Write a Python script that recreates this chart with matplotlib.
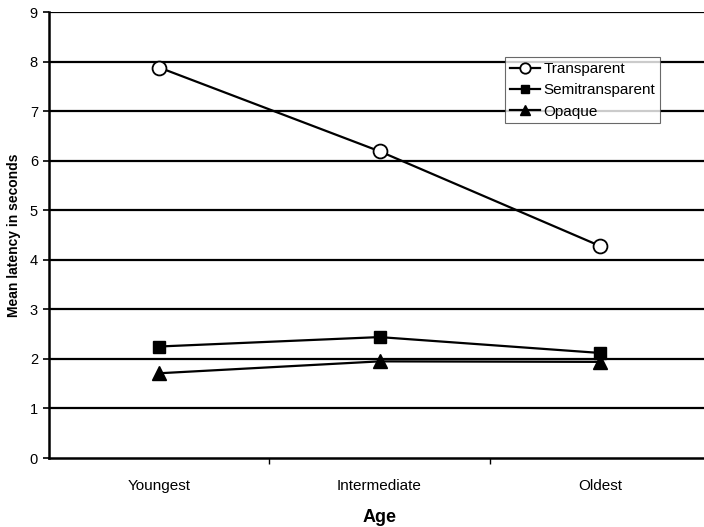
import matplotlib
matplotlib.use("Agg")
import matplotlib.pyplot as plt

categories = ["Youngest", "Intermediate", "Oldest"]
transparent = [7.88, 6.19, 4.28]
semitransparent = [2.25, 2.44, 2.12]
opaque = [1.71, 1.95, 1.94]
yticks = [0, 1, 2, 3, 4, 5, 6, 7, 8, 9]

plt.rcParams['font.family'] = ['Liberation Sans', 'DejaVu Sans']

fig = plt.figure(figsize=(7.04, 5.27), dpi=100)
ax = fig.add_axes([49/704, 1-458/527, 661/704, 446/527])

x = list(range(len(categories)))
ax.set_xlim(-0.5, len(categories)-0.5)
ax.set_ylim(0, 9)

for yv in yticks[1:]:
    ax.axhline(yv, color='black', lw=1.6, zorder=1)

ax.plot(x, transparent, color='black', lw=1.6, marker='o', markersize=10,
        markerfacecolor='white', markeredgecolor='black', markeredgewidth=1.3,
        label='Transparent', zorder=3)
ax.plot(x, semitransparent, color='black', lw=1.6, marker='s', markersize=8.5,
        markerfacecolor='black', label='Semitransparent', zorder=3)
ax.plot(x, opaque, color='black', lw=1.6, marker='^', markersize=9.5,
        markerfacecolor='black', label='Opaque', zorder=3)

ax.set_yticks(yticks)
ax.set_yticklabels([str(v) for v in yticks], fontsize=10.5)
ax.set_xticks(x)
ax.set_xticklabels(categories, fontsize=11)
ax.set_xticks([0.5, 1.5], minor=True)
ax.tick_params(axis='x', which='major', length=0, pad=15)
ax.tick_params(axis='x', which='minor', length=4, width=1)
ax.tick_params(axis='y', which='major', length=4, width=1.2, pad=4)

for s in ['top', 'right']:
    ax.spines[s].set_visible(False)
ax.spines['left'].set_linewidth(1.8)
ax.spines['bottom'].set_linewidth(1.8)

ax.set_xlabel('Age', fontsize=13, fontweight='bold', labelpad=12)
ax.set_ylabel('Mean latency in seconds', fontsize=10, fontweight='bold', labelpad=6)

leg = ax.legend(loc='upper left', bbox_to_anchor=((505-49)/661, (458-57)/446),
                fontsize=11, frameon=True, fancybox=False, edgecolor='#444444',
                handlelength=2.0, handletextpad=0.2, labelspacing=0.48,
                borderpad=0.32, borderaxespad=0, markerscale=0.75)
leg.get_frame().set_linewidth(0.8)
leg.set_zorder(5)

fig.savefig('out.png', dpi=100)
